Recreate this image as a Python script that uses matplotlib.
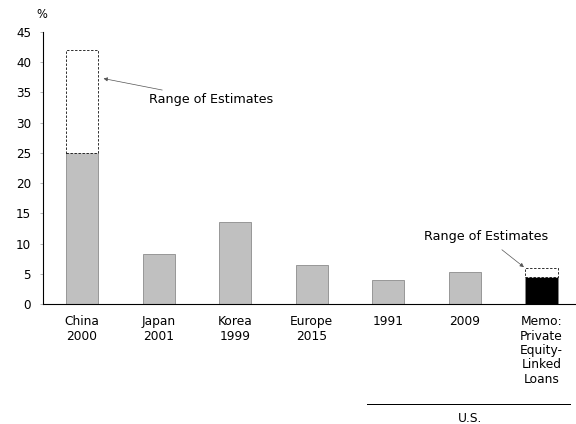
import matplotlib
matplotlib.use("Agg")
import matplotlib.pyplot as plt

categories = ["China\n2000", "Japan\n2001", "Korea\n1999", "Europe\n2015",
              "1991", "2009", "Memo:\nPrivate\nEquity-\nLinked\nLoans"]
values = [25.0, 8.2, 13.5, 6.4, 3.9, 5.35, 4.4]
range_high = {0: 42.0, 6: 6.0}
bar_colors = ["#c0c0c0"] * 6 + ["#000000"]
y_ticks = [0, 5, 10, 15, 20, 25, 30, 35, 40, 45]

plt.rcParams["font.family"] = ["DejaVu Sans"]
fig = plt.figure(figsize=(8, 424 / 72), dpi=72)
ax = fig.add_axes([43 / 576, 1 - 304 / 424, 1 - 43 / 576, 272 / 424])

x = list(range(len(categories)))
width = 0.42
ax.bar(x, values, width=width, color=bar_colors, edgecolor="#888888", linewidth=0.8)

# Dashed boxes showing the upper end of the estimate range
for i, hi in range_high.items():
    ax.bar(i, hi - values[i], bottom=values[i], width=width, color="white",
           edgecolor="black", linestyle=(0, (3, 2)), linewidth=0.8)

ax.set_xlim(-0.51, 6.45)
ax.set_ylim(0, 45)
ax.set_yticks(y_ticks)
ax.set_xticks(x)
ax.set_xticklabels(categories, fontsize=12.3, linespacing=1.15)
ax.tick_params(axis="x", length=0, pad=11)
ax.tick_params(axis="y", length=3, width=0.6, color="#888888", labelsize=12, pad=9)
for side in ("top", "right"):
    ax.spines[side].set_visible(False)
for side in ("left", "bottom"):
    ax.spines[side].set_linewidth(1.1)

fig.text(42 / 576, 1 - 15 / 424, "%", fontsize=11.5, ha="center", va="center")

ax.annotate("Range of Estimates", xy=(0.28, 37.3), xytext=(0.88, 33.8),
            fontsize=12.8, ha="left", va="center",
            arrowprops=dict(arrowstyle="-|>", color="#555555", lw=0.7,
                            shrinkA=6, shrinkB=0, mutation_scale=8))
ax.annotate("Range of Estimates", xy=(5.77, 6.1), xytext=(5.27, 11.1),
            fontsize=12.8, ha="center", va="center",
            arrowprops=dict(arrowstyle="-|>", color="#555555", lw=0.7,
                            shrinkA=7, shrinkB=0, mutation_scale=8))

# Group bracket for the U.S. bars
fig.add_artist(plt.Line2D([367 / 576, 570 / 576], [1 - 404 / 424, 1 - 404 / 424],
                          color="black", lw=1.0))
fig.text(470 / 576, 1 - 418 / 424, "U.S.", fontsize=12.3, ha="center", va="center")

fig.savefig("out.png", dpi=72)
